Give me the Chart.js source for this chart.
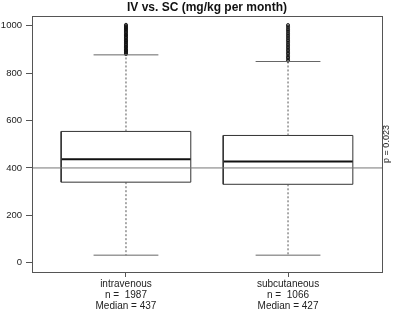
<!DOCTYPE html>
<html>
<head>
<meta charset="utf-8">
<script src="https://cdn.jsdelivr.net/npm/chart.js@4/dist/chart.umd.min.js"></script>
<style>
  html, body { margin: 0; padding: 0; background: #fff; }
  #wrap { width: 395px; height: 309px; }
</style>
</head>
<body>
<div id="wrap"><canvas id="boxChart"></canvas></div>
<script>
// values
const groups = ['intravenous', 'subcutaneous'];
const counts = [1987, 1066];
const medians = [437, 427];
const lowerQuartiles = [340, 331];
const upperQuartiles = [554, 537];
const whiskerLows = [32, 32];
const whiskerHighs = [877, 849];
const ivOutliers = [880, 883, 887, 889, 894, 897, 899, 903, 908, 910, 913, 918, 921, 924, 929, 931, 936, 939, 942, 947, 950, 953, 958, 961, 963, 968, 972, 975, 979, 983, 986, 990, 994, 997, 1001, 1004];
const scOutliers = [852, 857, 864, 869, 875, 882, 886, 893, 899, 904, 910, 917, 921, 928, 934, 939, 946, 950, 957, 963, 968, 975, 980, 985, 992, 997, 1003];
const outliers = [ivOutliers, scOutliers];
const yTicks = [0, 200, 400, 600, 800, 1000];
const refValue = 400;
const pLabel = 'p = 0.023';

const BOX_W = 0.8;
const CAP_W = 0.4;
const X_MIN = 0.42, X_MAX = 2.58;
const Y_MIN = -39, Y_MAX = 1041;
const FONT = '"Liberation Sans", Arial, sans-serif';

// a line through some points (box edges, whiskers, caps)
function seg(points, extra) {
  return Object.assign({
    data: points,
    showLine: true,
    pointRadius: 0,
    borderColor: '#333',
    borderWidth: 1,
    fill: false
  }, extra);
}

const datasets = [];
datasets.push(seg([{ x: X_MIN, y: refValue }, { x: X_MAX, y: refValue }], { borderColor: '#777' }));

groups.forEach((g, i) => {
  const x = i + 1;
  const l = x - BOX_W / 2, r = x + BOX_W / 2;
  const cl = x - CAP_W / 2, cr = x + CAP_W / 2;

  // whiskers
  datasets.push(seg([{ x, y: upperQuartiles[i] }, { x, y: whiskerHighs[i] }], { borderDash: [2, 2], borderColor: '#555' }));
  datasets.push(seg([{ x, y: lowerQuartiles[i] }, { x, y: whiskerLows[i] }], { borderDash: [2, 2], borderColor: '#555' }));
  datasets.push(seg([{ x: cl, y: whiskerHighs[i] }, { x: cr, y: whiskerHighs[i] }], { borderColor: '#666' }));
  datasets.push(seg([{ x: cl, y: whiskerLows[i] }, { x: cr, y: whiskerLows[i] }], { borderColor: '#666' }));

  // box
  datasets.push(seg([
    { x: l, y: lowerQuartiles[i] }, { x: r, y: lowerQuartiles[i] },
    { x: r, y: upperQuartiles[i] }, { x: l, y: upperQuartiles[i] },
    { x: l, y: lowerQuartiles[i] }
  ]));
  datasets.push(seg([{ x: l, y: medians[i] }, { x: r, y: medians[i] }], { borderColor: '#111', borderWidth: 2 }));

  // outliers
  datasets.push({
    data: outliers[i].map(v => ({ x, y: v })),
    showLine: false,
    pointRadius: 1.5,
    pointBorderWidth: 0.9,
    pointBackgroundColor: 'rgba(0,0,0,0)',
    pointBorderColor: '#111'
  });
});

const framePlugin = {
  id: 'frame',
  afterDatasetsDraw(chart) {
    const { ctx, chartArea: a } = chart;
    ctx.save();
    ctx.strokeStyle = '#555';
    ctx.lineWidth = 1;
    ctx.strokeRect(a.left + 0.5, a.top + 0.5, a.right - a.left, a.bottom - a.top);
    // p value on the right margin, reading upwards
    ctx.translate(a.right + 5, (a.top + a.bottom) / 2);
    ctx.rotate(-Math.PI / 2);
    ctx.font = '9px ' + FONT;
    ctx.fillStyle = '#222';
    ctx.textAlign = 'center';
    ctx.textBaseline = 'middle';
    ctx.fillText(pLabel, 0, 0);
    ctx.restore();
  }
};

new Chart(document.getElementById('boxChart'), {
  type: 'scatter',
  data: { datasets },
  options: {
    responsive: true,
    maintainAspectRatio: false,
    animation: false,
    events: [],
    layout: { padding: { right: 13 } },
    plugins: {
      legend: { display: false },
      tooltip: { enabled: false },
      title: {
        display: true,
        text: 'IV vs. SC (mg/kg per month)',
        fullSize: false,
        color: '#111',
        font: { family: FONT, size: 12, weight: 'bold', lineHeight: 1.2 },
        padding: { top: 0.5, bottom: 1.1 }
      }
    },
    scales: {
      x: {
        type: 'linear',
        min: X_MIN,
        max: X_MAX,
        afterBuildTicks: s => { s.ticks = groups.map((_, i) => ({ value: i + 1 })); },
        afterFit: s => { s.height = 37; },
        grid: { drawOnChartArea: false, drawTicks: true, tickLength: 5, color: '#555' },
        border: { display: false },
        ticks: {
          maxRotation: 0,
          autoSkip: false,
          padding: 1.5,
          color: '#222',
          font: { family: FONT, size: 10, lineHeight: 1.1 },
          callback: (v, i) => [groups[i], 'n =  ' + counts[i], 'Median = ' + medians[i]]
        }
      },
      y: {
        min: Y_MIN,
        max: Y_MAX,
        afterBuildTicks: s => { s.ticks = yTicks.map(v => ({ value: v })); },
        afterFit: s => { s.width = 32; },
        grid: { drawOnChartArea: false, drawTicks: true, tickLength: 6, color: '#555' },
        border: { display: false },
        ticks: {
          padding: 4,
          color: '#222',
          font: { family: FONT, size: 9.5 },
          callback: v => String(v)
        }
      }
    }
  },
  plugins: [framePlugin]
});
</script>
</body>
</html>
